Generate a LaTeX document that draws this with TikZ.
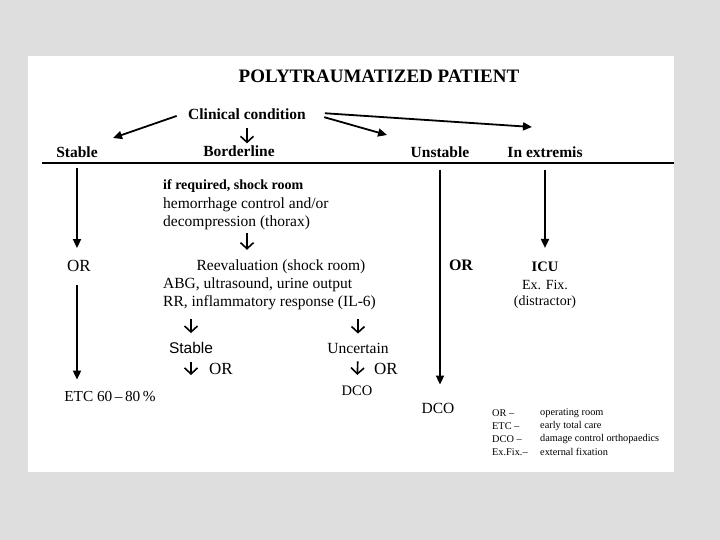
\documentclass[tikz,border=0pt]{standalone}
\usepackage{fontspec}
\setmainfont{Liberation Serif}
\newfontfamily\arialfont{Liberation Sans}
\usetikzlibrary{arrows.meta}
\definecolor{pagebg}{RGB}{222,222,222}

\begin{document}
\begin{tikzpicture}[x=1pt,y=-1pt,
    every node/.style={inner sep=0pt},
    head/.style={font=\fontsize{15.5}{18}\selectfont\bfseries},
    txt/.style={font=\fontsize{15.5}{18}\selectfont},
    legend/.style={font=\fontsize{10.3}{12}\selectfont,anchor=west},
    bigarrow/.style={line width=1.8pt,-{Triangle[length=9pt,width=8pt]}},
    downarrow/.style={line width=1.6pt,-{Straight Barb[length=6pt,width=13pt]}}]
    % page and sheet
    \fill[pagebg] (0,0) rectangle (720,540);
    \fill[white] (28,56) rectangle (674,472);

    \node[font=\fontsize{19}{22}\selectfont\bfseries] (title) at (379,76) {POLYTRAUMATIZED PATIENT};
    \node[head] (clin) at (247,114) {Clinical condition};
    \node[head] (stab) at (77,152) {Stable};
    \node[head] (bord) at (239,151) {Borderline};
    \node[head] (unst) at (440,152) {Unstable};
    \node[head] (extr) at (545,152) {In extremis};

    \coordinate (sepL) at (42,163);
    \coordinate (sepR) at (674,163);
    \draw[line width=1.2pt] (sepL) -- (sepR);

    \coordinate (toStab) at (113,138);
    \coordinate (toUnst) at (387,135);
    \coordinate (toExtr) at (532,127);
    \draw[bigarrow,shorten <=12pt] ([yshift=2pt]clin.west) -- (toStab);
    \draw[bigarrow,shorten <=19pt] ([yshift=2pt]clin.east) -- (toUnst);
    \draw[bigarrow,shorten <=19pt] ([yshift=2pt]clin.east) -- (toExtr);
    \draw[downarrow,shorten <=8pt,shorten >=2pt] (clin.south) -- (clin.south |- bord.north);

    % stable
    \node[font=\fontsize{17}{20}\selectfont] (or1) at (79,266) {OR};
    \node[font=\fontsize{15.3}{18}\selectfont] (etc) at (110,397) {ETC 60\,--\,80\,\%};
    \draw[bigarrow,shorten <=10pt,shorten >=12pt] (stab.south) -- (stab.south |- or1.north);
    \draw[bigarrow,shorten <=13pt,shorten >=12pt] (stab.south |- or1.south) -- (stab.south |- etc.north);

    % borderline
    \node[font=\fontsize{14}{16}\selectfont\bfseries,anchor=west] (req) at (163,186) {if required, shock room};
    \node[txt,anchor=west] (hem) at (163,205) {hemorrhage control and/or};
    \node[txt,anchor=west] (dec) at (163,223) {decompression (thorax)};
    \node[txt] (reev) at (281,267) {Reevaluation (shock room)};
    \node[txt,anchor=west] (abg) at (163,285) {ABG, ultrasound, urine output};
    \node[txt,anchor=west] (rr) at (163,303) {RR, inflammatory response (IL-6)};
    \draw[downarrow,shorten <=3pt,shorten >=10pt] (dec.south -| clin.south) -- (reev.north -| clin.south);

    \node[font=\fontsize{15.5}{18}\selectfont\arialfont] (stab2) at (191,348) {Stable};
    \node[txt] (unc) at (358,348) {Uncertain};
    \draw[downarrow,shorten <=9pt,shorten >=9pt] (rr.south -| stab2.north) -- (stab2.north);
    \draw[downarrow,shorten <=9pt,shorten >=9pt] (rr.south -| unc.north) -- (unc.north);

    \coordinate (stabOut) at (191,375);
    \node[font=\fontsize{17}{20}\selectfont] (or2) at (221,369) {OR};
    \node[font=\fontsize{17}{20}\selectfont] (or3) at (386,369) {OR};
    \node[font=\fontsize{14.5}{17}\selectfont] (dco1) at (357,391) {DCO};
    \draw[downarrow,shorten <=8pt] (stab2.south) -- (stabOut);
    \draw[downarrow,shorten <=8pt,shorten >=11pt] (unc.south) -- (dco1.north);

    % unstable
    \node[font=\fontsize{16}{19}\selectfont\bfseries] (or4) at (461,265) {OR};
    \node[txt] (dco2) at (438,408) {DCO};
    \draw[bigarrow,shorten <=12pt,shorten >=18pt] (unst.south) -- (unst.south |- dco2.north);

    % in extremis
    \node[font=\fontsize{14.5}{17}\selectfont\bfseries] (icu) at (545,267) {ICU};
    \node[font=\fontsize{14}{17}\selectfont] (exfix) at (545,285) {Ex. Fix.};
    \node[font=\fontsize{14}{17}\selectfont] (distr) at (545,302) {(distractor)};
    \draw[bigarrow,shorten <=12pt,shorten >=14pt] (extr.south) -- (extr.south |- icu.north);

    % legend
    \foreach \i/\y/\abbr/\full in {1/413/OR --/operating room,2/426/ETC --/early total care,
        3/439/DCO --/damage control orthopaedics,4/452/Ex.Fix.--/external fixation} {
      \node[legend] (abbr\i) at (492,\y) {\abbr};
      \node[legend] (full\i) at (540,\y) {\full};
    }
  \end{tikzpicture}
\end{document}
